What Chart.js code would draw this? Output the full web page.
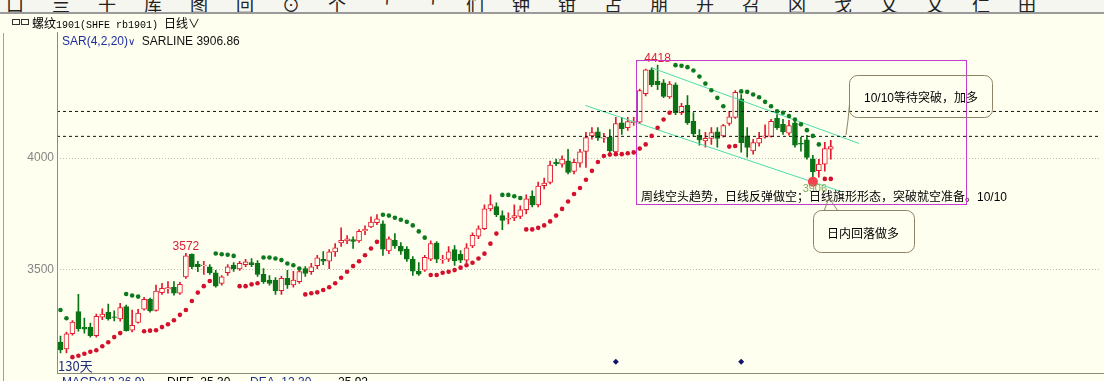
<!DOCTYPE html>
<html>
<head>
<meta charset="utf-8">
<script src="https://cdn.jsdelivr.net/npm/chart.js@4.4.0/dist/chart.umd.min.js"></script>
<style>
  body { margin:0; width:1104px; height:381px; overflow:hidden; background:#fffff0; position:relative; }
  #c { position:absolute; left:0; top:0; }
  .ov { position:absolute; white-space:nowrap; z-index:2; }
  #toolbar { position:absolute; left:0; top:0; width:1104px; height:12px; overflow:hidden; background:#f6f6f0; z-index:2; }
  #toolbar span { position:absolute; top:-9px; font:18px "Noto Sans CJK SC"; color:#222; }
  #sep { position:absolute; left:0; top:12px; width:1104px; height:2px; background:#9a9a9a; z-index:2; }
  .cjk { font-family:"Noto Sans CJK SC"; font-size:12px; }
  .mono { font-family:"Liberation Mono"; font-size:10px; }
  .sans { font-family:"Liberation Sans", Arial; font-size:12px; }
  svg { position:absolute; left:0; top:0; z-index:3; }
</style>
</head>
<body>
<canvas id="c" width="1104" height="381"></canvas>
<div id="toolbar"></div>
<div id="sep"></div>

<div class="ov" style="left:11px;top:15px;">
  <svg width="20" height="14" style="position:static"><rect x="1.5" y="4.5" width="7" height="5" fill="none" stroke="#333"/><rect x="10.5" y="4.5" width="7" height="5" fill="none" stroke="#333"/></svg>
</div>
<div class="ov" style="left:32px;top:14px;color:#000;"><span class="cjk">螺纹</span><span class="mono">1901(SHFE rb1901) </span><span class="cjk">日线∨</span></div>

<div class="ov sans" id="sarLabel" style="left:62px;top:34px;"></div>

<div class="ov" style="left:57px;top:32px;width:1px;height:341px;background:#8a8a8a;"></div>
<div class="ov" style="left:3px;top:33px;width:1px;height:348px;background:#a0a0a0;"></div>
<div class="ov" style="left:57px;top:373px;width:1047px;height:1px;background:#8c8c74;"></div>

<div class="ov cjk" style="left:58px;top:356px;color:#1c2c7c;font-size:13px;">130天</div>
<div class="ov sans" style="left:62px;top:375px;color:#1c2c8c;">MACD(12,26,9)</div>
<div class="ov sans" style="left:167px;top:375px;color:#000;">DIFF&nbsp; 25.30</div>
<div class="ov sans" style="left:250px;top:375px;color:#1c2c8c;">DEA&nbsp; 12.30</div>
<div class="ov sans" style="left:338px;top:375px;color:#000;">25.92</div>

<div class="ov cjk" style="left:641px;top:187px;color:#000;">周线空头趋势，日线反弹做空；日线旗形形态，突破就空准备。<span class="sans">10/10</span></div>
<div class="ov cjk" style="left:864px;top:88px;color:#000;"><span class="sans">10/10</span>等待突破，加多</div>
<div class="ov cjk" style="left:827px;top:224px;color:#000;">日内回落做多</div>

<svg width="1104" height="381">
  <rect x="636.5" y="60.5" width="330" height="144" fill="none" stroke="#c43ccc" stroke-width="1"/>
  <rect x="849.5" y="75.5" width="143" height="42" rx="8" fill="none" stroke="#8c8466"/>
  <polyline points="849.5,104 848,120 846,135" fill="none" stroke="#8c8466"/>
  <rect x="813.5" y="210.5" width="101" height="42" rx="8" fill="none" stroke="#8c8466"/>
  <polyline points="824,211 829,198 838,211" fill="none" stroke="#8c8466"/>
</svg>

<script>
// ===== 日线数据 (130天) =====
const openP = [3174,3143,3211,3311,3240,3240,3202,3286,3308,3287,
  3278,3333,3227,3262,3321,3366,3316,3396,3412,3420,
  3393,3467,3568,3524,3517,3512,3485,3437,3485,3520,
  3502,3522,3531,3527,3478,3452,3452,3405,3460,3430,
  3445,3504,3490,3517,3546,3537,3579,3619,3628,3634,
  3628,3674,3691,3710,3705,3583,3631,3604,3591,3545,
  3492,3497,3546,3619,3543,3546,3589,3568,3542,3606,
  3649,3683,3772,3783,3742,3726,3731,3738,3769,3829,
  3790,3876,3891,3981,3973,3988,3940,3978,4030,4100,
  4118,4090,4095,4028,4159,4137,4160,4162,4290,4397,
  4345,4338,4275,4330,4204,4237,4166,4103,4078,4089,
  4118,4100,4156,4183,4267,4100,4033,4067,4094,4098,
  4179,4152,4112,4159,4067,4082,3997,3944,3973,4040];

const highP = [3201,3219,3270,3388,3281,3259,3299,3323,3344,3314,
  3348,3340,3317,3321,3375,3371,3430,3438,3446,3446,
  3442,3572,3570,3537,3537,3522,3496,3473,3522,3531,
  3536,3545,3549,3540,3504,3473,3464,3469,3496,3491,
  3496,3513,3527,3563,3580,3589,3616,3687,3652,3647,
  3679,3696,3737,3746,3719,3647,3661,3621,3603,3558,
  3531,3563,3629,3625,3563,3603,3607,3585,3616,3665,
  3696,3790,3835,3799,3763,3754,3790,3786,3835,3853,
  3893,3911,3987,3996,4010,4040,3996,4040,4116,4138,
  4138,4112,4129,4183,4183,4183,4183,4310,4400,4406,
  4418,4353,4344,4339,4246,4281,4205,4129,4116,4138,
  4138,4152,4210,4304,4286,4138,4085,4116,4150,4175,
  4196,4174,4170,4174,4094,4103,4013,3995,4071,4080];

const lowP = [3125,3125,3205,3223,3214,3196,3196,3274,3272,3269,
  3268,3223,3219,3259,3317,3308,3313,3388,3393,3384,
  3388,3460,3504,3490,3478,3478,3420,3429,3473,3491,
  3496,3513,3513,3469,3437,3429,3388,3388,3415,3420,
  3437,3469,3478,3504,3522,3504,3558,3603,3616,3594,
  3621,3656,3688,3701,3563,3571,3594,3567,3536,3473,
  3473,3491,3540,3531,3527,3536,3518,3531,3531,3598,
  3638,3679,3763,3737,3679,3705,3719,3728,3750,3781,
  3781,3862,3884,3966,3960,3929,3929,3960,3958,4085,
  4080,4071,4020,4013,4107,4125,4147,4155,4280,4321,
  4308,4272,4268,4196,4196,4152,4098,4058,4049,4062,
  4049,4094,4147,4179,4027,4004,4018,4054,4090,4094,
  4129,4107,4103,4049,4031,3995,3906,3915,3942,3995];

const closeP = [3138,3211,3263,3234,3232,3202,3289,3299,3278,3284,
  3329,3225,3249,3304,3366,3314,3403,3415,3418,3393,
  3433,3561,3512,3512,3520,3485,3425,3467,3512,3502,
  3527,3534,3522,3478,3445,3437,3404,3460,3430,3452,
  3490,3482,3512,3552,3537,3579,3597,3631,3638,3626,
  3671,3680,3713,3728,3591,3638,3606,3582,3546,3492,
  3479,3554,3616,3546,3546,3579,3540,3542,3597,3653,
  3683,3772,3792,3746,3720,3730,3742,3768,3817,3790,
  3875,3888,3969,3974,3996,3936,3981,4028,4092,4115,
  4092,4094,4033,4156,4133,4164,4165,4304,4397,4330,
  4330,4278,4333,4204,4233,4159,4110,4082,4089,4115,
  4089,4147,4186,4296,4070,4048,4070,4089,4100,4166,
  4137,4118,4147,4058,4063,4003,3939,3973,4043,4052];

// SAR(4,2,20)
const sarP = [3318,3281,3106,3112,3121,3130,3137,3155,3173,3196,
  3214,3390,3383,3378,3222,3225,3227,3241,3254,3272,
  3296,3318,3358,3396,3425,3448,3572,3568,3566,3561,
  3425,3425,3433,3438,3554,3554,3549,3542,3527,3519,
  3504,3388,3393,3397,3408,3420,3438,3463,3490,3515,
  3537,3564,3594,3624,3746,3742,3732,3723,3714,3698,
  3671,3643,3475,3475,3485,3490,3497,3508,3519,3530,
  3549,3571,3616,3661,3835,3835,3829,3821,3680,3680,
  3687,3698,3716,3742,3772,3805,3839,3866,3903,3943,
  3983,4010,4016,4018,4018,4022,4026,4043,4062,4100,
  4137,4174,4204,4418,4415,4409,4394,4367,4335,4305,
  4271,4233,4052,4055,4300,4298,4286,4274,4253,4233,
  4211,4204,4189,4174,4152,4126,4100,4062,3906.86,3906.86];

const yTicks = [3500, 4000];
const levelLines = [4210, 4098];         // 黑色虚线
const channelUpper = [[99.1, 4405], [133.75, 4066]];
const channelLower = [[87.9, 4237], [130.4, 3853]];
const peakIdx = [21, 100];               // 标注最高价
const lowMarkIdx = 126;                  // 日内回落做多
const signalIdx = [93, 114];             // 底部信号

const UP = '#e4182e', DOWN = '#0a7414', BG = '#fffff0';
const SAR_UP = '#d4102c', SAR_DN = '#0d7a1e';

const xMin = -0.5833, xMax = 173.9167;
const idx = closeP.map((_, i) => i);
const isUp = idx.map(i => closeP[i] >= openP[i]);

// 顶部工具栏
const tb = document.getElementById('toolbar');
'口亖十库图回⊙个ᄀᄀ们钟钳占朋开召凶戈乂乂仁田'.split('').forEach((g, i) => {
  const s = document.createElement('span');
  s.textContent = g;
  s.style.left = (6 + i * 46) + 'px';
  tb.appendChild(s);
});

document.getElementById('sarLabel').innerHTML =
  '<span style="color:#1e2ea0">SAR(4,2,20)</span><span style="color:#1e2ea0;font-size:10px">∨</span>' +
  '&nbsp;&nbsp;<span style="color:#111">SARLINE ' + sarP[sarP.length - 1].toFixed(2) + '</span>';

const textPlugin = {
  id: 'texts',
  afterDatasetsDraw(chart) {
    const { ctx, scales: { x, y } } = chart;
    ctx.save();
    ctx.font = '12px "Liberation Sans", Arial';
    ctx.fillStyle = '#dc2038';
    ctx.textAlign = 'center';
    ctx.textBaseline = 'alphabetic';
    peakIdx.forEach(i => ctx.fillText(String(highP[i]), x.getPixelForValue(i), y.getPixelForValue(highP[i]) - 3));
    ctx.font = '11px "Liberation Sans", Arial';
    ctx.fillStyle = '#86a85a';
    ctx.fillText(String(lowP[lowMarkIdx]), x.getPixelForValue(lowMarkIdx) + 2, y.getPixelForValue(lowP[lowMarkIdx]) + 13);
    ctx.restore();
  }
};

const bgPlugin = {
  id: 'bg',
  beforeDraw(chart) {
    const ctx = chart.ctx;
    ctx.save();
    ctx.fillStyle = BG;
    ctx.fillRect(0, 0, chart.width, chart.height);
    ctx.restore();
  }
};

const hLine = v => [{ x: xMin, y: v }, { x: xMax, y: v }];
const seg = s => s.map(p => ({ x: p[0], y: p[1] }));

new Chart(document.getElementById('c').getContext('2d'), {
  type: 'bar',
  data: {
    datasets: [
      {
        type: 'bar', order: 5, grouped: false,
        data: idx.map(i => ({ x: i, y: [lowP[i], highP[i]] })),
        backgroundColor: idx.map(i => isUp[i] ? UP : DOWN),
        borderWidth: 0, barThickness: 1
      },
      {
        type: 'bar', order: 4, grouped: false,
        data: idx.map(i => ({ x: i, y: [openP[i], closeP[i]] })),
        backgroundColor: idx.map(i => isUp[i] ? BG : DOWN),
        borderColor: idx.map(i => isUp[i] ? UP : DOWN),
        borderWidth: 1, borderSkipped: false, barThickness: 5
      },
      ...levelLines.map(v => ({
        type: 'line', order: 3, data: hLine(v), borderColor: '#111', borderWidth: 1,
        borderDash: [3, 3], pointRadius: 0
      })),
      {
        type: 'line', order: 3, data: seg(channelUpper), borderColor: '#4cdcaa', borderWidth: 1, pointRadius: 0
      },
      {
        type: 'line', order: 3, data: seg(channelLower), borderColor: '#4cdcaa', borderWidth: 1, pointRadius: 0
      },
      {
        type: 'line', order: 2, showLine: false,
        data: idx.map(i => ({ x: i, y: sarP[i] })),
        pointRadius: 2.3, pointBorderWidth: 0,
        pointBackgroundColor: idx.map(i => sarP[i] > closeP[i] ? SAR_DN : SAR_UP)
      },
      {
        type: 'line', order: 1, showLine: false,
        data: [{ x: lowMarkIdx, y: lowP[lowMarkIdx] - 12 }],
        pointRadius: 5, pointBorderWidth: 0, pointBackgroundColor: '#f2444e'
      },
      {
        type: 'line', order: 1, showLine: false,
        data: signalIdx.map(i => ({ x: i, y: 3085 })),
        pointStyle: 'rectRot', pointRadius: 3, pointBorderWidth: 0, pointBackgroundColor: '#14146e'
      }
    ]
  },
  options: {
    responsive: false,
    animation: false,
    layout: { padding: { top: 32, bottom: 8, left: 0, right: 0 } },
    plugins: { legend: { display: false }, tooltip: { enabled: false } },
    scales: {
      x: { type: 'linear', display: false, min: xMin, max: xMax, offset: false, grid: { display: false } },
      y: {
        min: 3044.6, max: 4566.96, position: 'left',
        afterFit: s => { s.width = 57; },
        afterBuildTicks: s => { s.ticks = yTicks.map(v => ({ value: v })); },
        grid: { color: '#bdbdbd', lineWidth: 1, drawTicks: false },
        border: { display: false, dash: [1, 2] },
        ticks: {
          color: '#858585', padding: 3,
          font: { family: '"Liberation Sans", Arial', size: 12 },
          callback: v => String(v)
        }
      }
    }
  },
  plugins: [bgPlugin, textPlugin]
});
</script>
</body>
</html>
